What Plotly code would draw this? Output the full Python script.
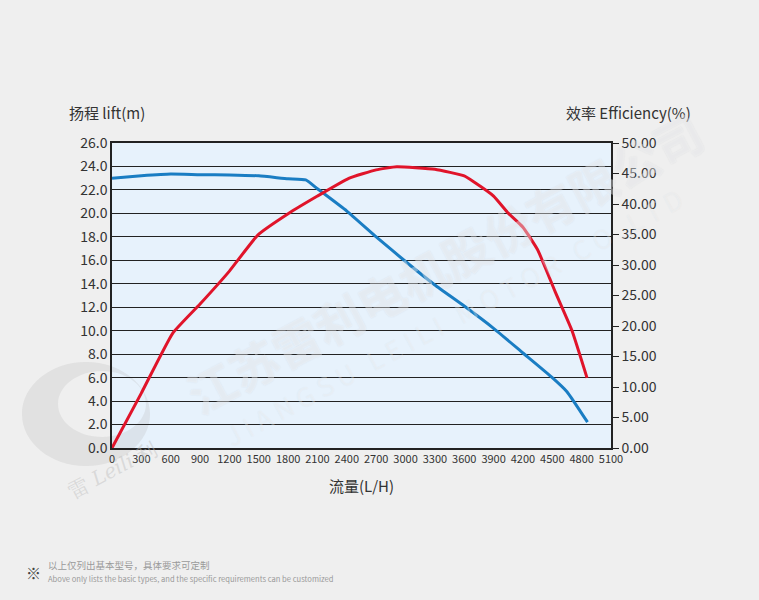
import plotly.graph_objects as go

# 流量 (L/H) vs 扬程 (m)
flow_lift = [0, 300, 600, 900, 1200, 1500, 1800, 1980, 2100, 2400, 2700, 3000, 3300, 3600, 3900, 4200, 4500, 4650, 4860]
lift = [23.0, 23.2, 23.35, 23.3, 23.28, 23.2, 22.95, 22.85, 22.1, 20.2, 18.0, 15.9, 13.9, 12.1, 10.2, 8.1, 6.0, 4.8, 2.2]

# 流量 (L/H) vs 效率 (%)
flow_eff = [0, 300, 620, 900, 1200, 1490, 1800, 2100, 2420, 2700, 2910, 3300, 3600, 3700, 3900, 4050, 4200, 4350, 4530, 4700, 4855]
eff = [0, 9.0, 18.8, 23.6, 29.0, 34.9, 38.4, 41.3, 44.2, 45.6, 46.1, 45.7, 44.6, 43.6, 41.3, 38.5, 36.2, 32.5, 25.6, 19.3, 11.5]

x_ticks = list(range(0, 5101, 300))

blue = "#1a7dc3"
red = "#e0142a"
font = "Noto Sans CJK SC"

W, H = 759, 600
L, R, T, B = 112, 148, 143, 152


def px(x, y):
    # page pixel -> paper coordinates (for decorations only)
    return (x - L) / (W - L - R), (H - B - y) / (H - T - B)


def ellipse(cx, cy, rx, ry, reverse=False):
    k = 0.5523
    pts = [(cx + rx, cy), (cx, cy + ry), (cx - rx, cy), (cx, cy - ry)]
    ctrl = [
        ((cx + rx, cy + k * ry), (cx + k * rx, cy + ry)),
        ((cx - k * rx, cy + ry), (cx - rx, cy + k * ry)),
        ((cx - rx, cy - k * ry), (cx - k * rx, cy - ry)),
        ((cx + k * rx, cy - ry), (cx + rx, cy - k * ry)),
    ]
    segs = []
    if not reverse:
        for i in range(4):
            segs.append((ctrl[i][0], ctrl[i][1], pts[(i + 1) % 4]))
    else:
        for i in range(3, -1, -1):
            segs.append((ctrl[i][1], ctrl[i][0], pts[i]))
    start = pts[0]
    p = "M{:.4f},{:.4f}".format(*px(*start))
    for c1, c2, e in segs:
        p += " C{:.4f},{:.4f} {:.4f},{:.4f} {:.4f},{:.4f}".format(*px(*c1), *px(*c2), *px(*e))
    return p + " Z"


fig = go.Figure()
fig.add_trace(go.Scatter(x=flow_lift, y=lift, mode="lines", name="扬程",
                         line=dict(color=blue, width=3, shape="spline", smoothing=0.4)))
fig.add_trace(go.Scatter(x=flow_eff, y=eff, mode="lines", name="效率", yaxis="y2",
                         line=dict(color=red, width=3, shape="spline", smoothing=0.4)))

fig.update_layout(
    width=W, height=H,
    margin=dict(l=L, r=R, t=T, b=B),
    paper_bgcolor="#efefef",
    plot_bgcolor="#e7f2fc",
    showlegend=False,
    font=dict(family=font, color="#333333", size=14),
    xaxis=dict(range=[0, 5100], tickvals=x_ticks, showgrid=False, zeroline=False,
               showline=True, linecolor="#222222", linewidth=1.5, mirror=True,
               ticks="", tickfont=dict(size=11),
               title=dict(text="流量(L/H)", font=dict(size=15), standoff=17)),
    yaxis=dict(range=[0, 26], dtick=2, tickformat=".1f", showgrid=True,
               gridcolor="#222222", gridwidth=1, zeroline=False,
               showline=True, linecolor="#222222", linewidth=1.5, ticks="",
               tickfont=dict(size=14)),
    yaxis2=dict(range=[0, 50], dtick=5, tickformat=".2f", overlaying="y", side="right",
                showgrid=False, zeroline=False, showline=True, linecolor="#222222",
                linewidth=1.5, ticks="outside", ticklen=6, tickcolor="#222222",
                tickfont=dict(size=14)),
)

# faint logo swirl at the left
fig.add_shape(type="path", xref="paper", yref="paper", layer="below",
              path=ellipse(86, 414, 64, 52) + " " + ellipse(102, 404, 44, 33, reverse=True),
              fillcolor="rgba(185,185,185,0.25)", line=dict(width=0))
lx, ly = px(112, 470)
fig.add_annotation(text="雷 <i>Leili</i> 利", xref="paper", yref="paper", x=lx, y=ly,
                   xanchor="center", yanchor="middle", textangle=-28, showarrow=False,
                   font=dict(size=20, family="DejaVu Serif", color="rgba(190,190,190,0.45)"))

# axis titles above the plot
fig.add_annotation(text="扬程 lift(m)", xref="paper", yref="paper", x=px(67, 0)[0], y=px(0, 113)[1],
                   xanchor="left", yanchor="middle", showarrow=False,
                   font=dict(size=15, color="#333333"))
fig.add_annotation(text="效率 Efficiency(%)", xref="paper", yref="paper", x=px(693, 0)[0], y=px(0, 113)[1],
                   xanchor="right", yanchor="middle", showarrow=False,
                   font=dict(size=15, color="#333333"))

# watermark
wx, wy = px(444, 262)
fig.add_annotation(text="<b>江苏雷利电机股份有限公司</b>", xref="paper", yref="paper", x=wx, y=wy,
                   xanchor="center", yanchor="middle", textangle=-28, showarrow=False,
                   font=dict(size=48, color="rgba(255,255,255,0.35)",
                             shadow="0px 0px 1.5px rgba(110,120,135,0.4)"))
ex, ey = px(453, 316)
fig.add_annotation(text="J I A N G S U   L E I L I   M O T O R   C O .,L T D", xref="paper", yref="paper",
                   x=ex, y=ey, xanchor="center", yanchor="middle", textangle=-28, showarrow=False,
                   font=dict(size=26, color="rgba(255,255,255,0.3)",
                             shadow="0px 0px 1px rgba(110,120,135,0.3)"))

# footnote
sx, sy = px(24, 572)
fig.add_annotation(text="※", xref="paper", yref="paper", x=sx, y=sy,
                   xanchor="left", yanchor="middle", showarrow=False,
                   font=dict(size=15, color="#444444"))
cx1, cy1 = px(46, 565)
fig.add_annotation(text="以上仅列出基本型号，具体要求可定制", xref="paper", yref="paper",
                   x=cx1, y=cy1, xanchor="left", yanchor="middle", showarrow=False,
                   font=dict(size=9.5, color="#9a9a9a"))
cx2, cy2 = px(46, 578)
fig.add_annotation(text="Above only lists the basic types, and the specific requirements can be customized",
                   xref="paper", yref="paper", x=cx2, y=cy2, xanchor="left", yanchor="middle",
                   showarrow=False, font=dict(size=7.6, color="#9a9a9a"))

fig.write_html("out.html", config={"displayModeBar": False},
               post_script="document.body.style.margin='0';document.body.style.overflow='hidden';")
